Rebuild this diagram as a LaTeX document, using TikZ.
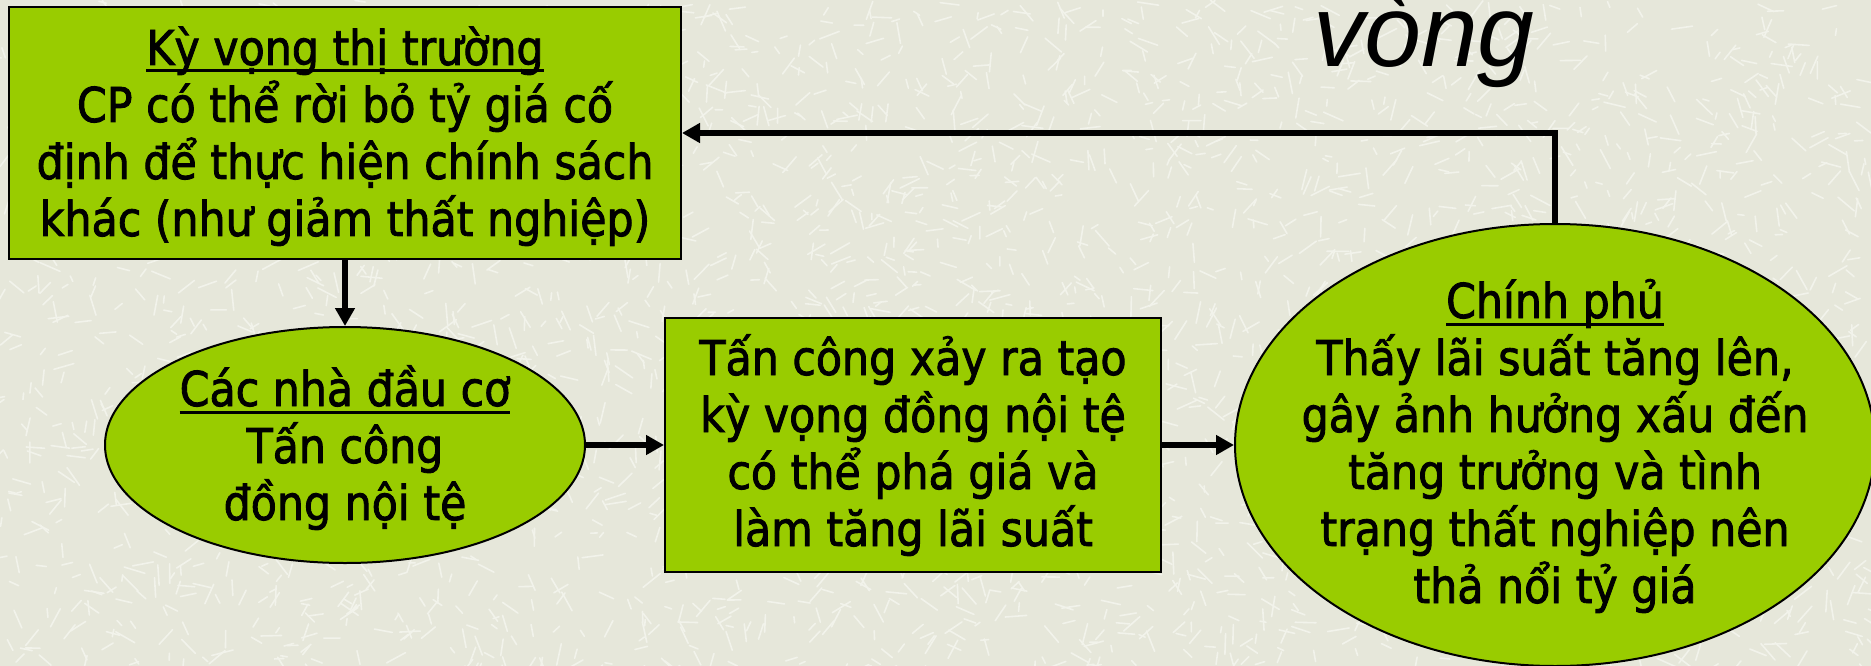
\documentclass[tikz,border=0pt]{standalone}
\usepackage{fontspec}
\setmainfont{DejaVu Sans}[FakeStretch=0.89,FakeBold=1.8]
\newfontfamily\loopfont{Liberation Sans}
\usetikzlibrary{shapes.geometric,arrows.meta}
\definecolor{bg}{HTML}{E6E7DA}
\definecolor{grain}{HTML}{F2F3EB}
\definecolor{leaf}{HTML}{99CC00}
\newcommand\myul[1]{\setbox0\hbox{#1}\rlap{\rule[-7.5pt]{\wd0}{3pt}}\box0}
\newcommand\txtlines[1]{\vtop{\baselineskip=57pt\lineskiplimit=-1000pt\lineskip=0pt\halign{\hfil##\hfil\cr#1\crcr}}}
\begin{document}
\begin{tikzpicture}[x=1pt,y=-1pt,
  shapebox/.style={draw=black,line width=2pt,fill=leaf,inner sep=0pt},
  oval/.style={ellipse,draw=black,line width=2pt,fill=leaf,inner sep=0pt},
  txt/.style={anchor=base,inner sep=0pt,font=\fontsize{48}{57}\selectfont},
  grainline/.style={grain,line width=1.6pt,line cap=round},
  flow/.style={line width=6pt,-{Triangle[length=18pt,width=19pt]}}]
\fill[bg] (0,0) rectangle (1871,666);
\useasboundingbox (0,0) rectangle (1871,666);
% background grain
\pgfmathsetseed{7}
\foreach \i in {1,...,3200}{
  \pgfmathsetmacro\xx{rnd*1871}
  \pgfmathsetmacro\yy{rnd*666}
  \pgfmathsetmacro\aa{rnd*180}
  \pgfmathsetmacro\ll{6+rnd*16}
  \draw[grainline] (\xx,\yy) -- ++(\aa:\ll);
}
% shapes
\node[shapebox,minimum width=672,minimum height=252] (market) at (345,133) {};
\node[oval,minimum width=480,minimum height=236] (spec) at (345,445) {};
\node[shapebox,minimum width=496,minimum height=254] (attack) at (913,445) {};
\node[oval,minimum width=640,minimum height=442] (gov) at (1555,445) {};
% texts
\node[txt] (marketText) at (345,65) {\txtlines{\myul{Kỳ vọng thị trường}\cr
CP có thể rời bỏ tỷ giá cố\cr
định để thực hiện chính sách\cr
khác (như giảm thất nghiệp)}};
\node[txt] (specText) at (345,406) {\txtlines{\myul{Các nhà đầu cơ}\cr
Tấn công\cr
đồng nội tệ}};
\node[txt] (attackText) at (913,375) {\txtlines{Tấn công xảy ra tạo\cr
kỳ vọng đồng nội tệ\cr
có thể phá giá và\cr
làm tăng lãi suất}};
\node[txt] (govText) at (1555,318) {\txtlines{\myul{Chính phủ}\cr
Thấy lãi suất tăng lên,\cr
gây ảnh hưởng xấu đến\cr
tăng trưởng và tình\cr
trạng thất nghiệp nên\cr
thả nổi tỷ giá}};
\node[anchor=base,inner sep=0pt,font=\loopfont\itshape\fontsize{102}{120}\selectfont] (loop) at (1424,67) {vòng};
% connectors
\draw[flow] (market.south) -- (spec.north);
\draw[flow] (spec.east) -- (attack.west);
\draw[flow] (attack.east) -- (gov.west);
\draw[flow] (gov.north) |- (market.east);
\end{tikzpicture}
\end{document}
